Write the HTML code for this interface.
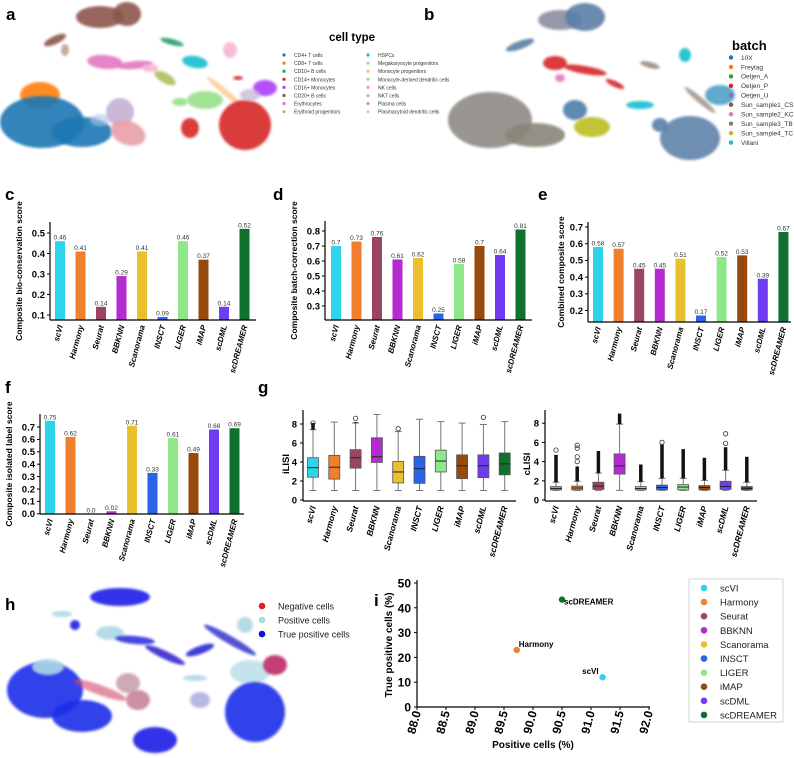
<!DOCTYPE html>
<html><head><meta charset="utf-8">
<style>
body{margin:0;background:#fff;}
svg{display:block;font-family:"Liberation Sans",sans-serif;}
.pl{font-weight:bold;font-size:17px;}
</style></head>
<body>
<svg id="fig" width="794" height="758" viewBox="0 0 794 758" xmlns="http://www.w3.org/2000/svg">
<defs>
<filter id="soft" x="-20%" y="-20%" width="140%" height="140%"><feGaussianBlur stdDeviation="1.2"/></filter>
</defs>
<text class="pl" x="6" y="20">a</text>
<text class="pl" x="424" y="20">b</text>
<text class="pl" x="5" y="200">c</text>
<text class="pl" x="273" y="200">d</text>
<text class="pl" x="538" y="200">e</text>
<text class="pl" x="5" y="393">f</text>
<text class="pl" x="258" y="393">g</text>
<text class="pl" x="5" y="610">h</text>
<text class="pl" x="374" y="606">i</text>
<g id="umapA"></g>
<g id="umapB"></g>
<g id="umapH"></g>
<g id="charts"></g>
</svg>
<script>
const methods = ["scVI","Harmony","Seurat","BBKNN","Scanorama","INSCT","LIGER","iMAP","scDML","scDREAMER"];
const methodColors = ["#2ed5e8","#f07f2e","#9b4565","#b62bd0","#eac02e","#2a62e8","#8ee88a","#974a0c","#6e3df2","#107030"];
const bioScores = [0.46,0.41,0.14,0.29,0.41,0.09,0.46,0.37,0.14,0.52];
const batchScores = [0.7,0.73,0.76,0.61,0.62,0.25,0.58,0.7,0.64,0.81];
const combinedScores = [0.58,0.57,0.45,0.45,0.51,0.17,0.52,0.53,0.39,0.67];
const isolatedScores = [0.75,0.62,0.0,0.02,0.71,0.33,0.61,0.49,0.68,0.69];
const bioTicks = [0.1,0.2,0.3,0.4,0.5];
const batchTicks = [0.3,0.4,0.5,0.6,0.7,0.8];
const combinedTicks = [0.2,0.3,0.4,0.5,0.6,0.7];
const isolatedTicks = [0,0.1,0.2,0.3,0.4,0.5,0.6,0.7];
// box stats: [min, q1, median, q3, max]
const ilisiStats = [[1,2.4,3.4,4.45,7.4],[1,2.2,3.45,4.7,8.2],[1,3.35,4.45,5.3,8.1],[1,3.95,4.55,6.55,9.0],[1,1.8,2.95,4.05,7.2],[1,1.75,3.3,4.6,8.5],[1,2.95,4.1,5.25,8.25],[1,2.25,3.6,4.75,8.1],[1,2.35,3.6,4.75,7.95],[1,2.65,3.8,4.95,8.25]];
const ilisiDenseMax = [8.1,null,8.2,null,null,null,null,null,null,null];
const ilisiOutliers = [[8.1],[],[8.6],[],[7.5],[],[],[],[8.7],[]];
const clisiStats = [[1,1.05,1.2,1.4,1.85],[1,1.05,1.25,1.45,1.95],[1,1.1,1.45,1.85,2.8],[1,2.7,3.55,4.8,7.9],[1,1.05,1.2,1.4,1.9],[1,1.05,1.3,1.55,2.25],[1,1.05,1.35,1.6,2.25],[1,1.05,1.3,1.5,2.05],[1,1.1,1.4,1.95,3.1],[1,1.05,1.2,1.4,1.85]];
const clisiDenseMax = [4.7,3.5,5.1,9.0,3.7,5.8,5.3,4.4,5.5,4.5];
const clisiOutliers = [[5.2],[4.0,4.5,5.4,5.7],[],[],[],[6.0],[],[],[5.9,6.9],[]];
const lisiTicks = [0,2,4,6,8];
const posCells = [91.2,89.72,90.5];
const truePosCells = [12,23,43.3];
const scatterNames = ["scVI","Harmony","scDREAMER"];
const scatterColors = ["#2ed5e8","#f07f2e","#107030"];
const xTicksI = [88.0,88.5,89.0,89.5,90.0,90.5,91.0,91.5,92.0];
const yTicksI = [0,10,20,30,40,50];
const cellTypes = ["CD4+ T cells","CD8+ T cells","CD10+ B cells","CD14+ Monocytes","CD16+ Monocytes","CD20+ B cells","Erythrocytes","Erythroid progenitors","HSPCs","Megakaryocyte progenitors","Monocyte progenitors","Monocyte-derived dendritic cells","NK cells","NKT cells","Plasma cells","Plasmacytoid dendritic cells"];
const cellColors = ["#1f77b4","#ff7f0e","#279e68","#d62728","#aa40fc","#8c564b","#e377c2","#b5bd61","#17becf","#aec7e8","#ffbb78","#98df8a","#ff9896","#c5b0d5","#c49c94","#f7b6d2"];
const batches = ["10X","Freytag","Oetjen_A","Oetjen_P","Oetjen_U","Sun_sample1_CS","Sun_sample2_KC","Sun_sample3_TB","Sun_sample4_TC","Villani"];
const batchColors = ["#1f77b4","#ff7f0e","#2ca02c","#d62728","#9467bd","#8c564b","#e377c2","#7f7f7f","#bcbd22","#17becf"];

const NS="http://www.w3.org/2000/svg";
function mk(parent,tag,attrs,text){const e=document.createElementNS(NS,tag);for(const k in attrs)e.setAttribute(k,attrs[k]);if(text!==undefined)e.textContent=text;parent.appendChild(e);return e;}
const charts=document.getElementById('charts');
function fmt(v){return Number.isInteger(v)?v.toFixed(1):String(v);}

function barChart(o){
  const g=mk(charts,'g',{});
  
  
  const y=v=>o.refY-(v-o.refV)*o.k;
  const x=i=>o.x1+i*o.step;
  const base=o.baseY;
  o.vals.forEach((v,i)=>{
    const top=Math.min(y(v),base);
    const r=mk(g,'rect',{x:x(i)-5,y:top,width:10,height:Math.max(base-top,0),fill:methodColors[i]});
    
    
    const t=mk(g,'text',{x:x(i),y:top-1.5,'font-size':6.5,'text-anchor':'middle',fill:'#333'},fmt(v));
    
    
  });
  mk(g,'line',{x1:o.ax,y1:o.topY,x2:o.ax,y2:base,stroke:'#000','stroke-width':1.2});
  mk(g,'line',{x1:o.ax,y1:base,x2:o.xEnd,y2:base,stroke:'#000','stroke-width':1.2});
  o.ticks.forEach(tv=>{
    const yy=y(tv);
    mk(g,'line',{x1:o.ax-3,y1:yy,x2:o.ax,y2:yy,stroke:'#000','stroke-width':1});
    const t=mk(g,'text',{x:o.ax-5,y:yy+3.3,'font-size':9.5,'font-weight':'bold','text-anchor':'end'},tv.toFixed(1));
    
    
  });
  methods.forEach((m,i)=>{
    const t=mk(g,'text',{transform:`translate(${x(i)+3},${base+6}) rotate(-75)`,'font-size':8,'font-weight':'bold','font-style':'italic','text-anchor':'end'},m);
    
    
  });
  const yl=mk(g,'text',{transform:`translate(${o.ylx},${(o.topY+base)/2}) rotate(-90)`,'font-size':8.5,'font-weight':'bold','text-anchor':'middle'},o.ylabel);
  
  
}
barChart({name:'bio-conservation-chart',vals:bioScores,ticks:bioTicks,refV:0.5,refY:233,k:205,baseY:320,topY:222,ax:50,xEnd:256,x1:60,step:20.5,ylabel:'Composite bio-conservation score',ylx:22});
barChart({name:'batch-correction-chart',vals:batchScores,ticks:batchTicks,refV:0.8,refY:231,k:150,baseY:320,topY:221,ax:325,xEnd:532,x1:336,step:20.5,ylabel:'Composite batch-correction score',ylx:297});
barChart({name:'combined-score-chart',vals:combinedScores,ticks:combinedTicks,refV:0.7,refY:227,k:167,baseY:322,topY:222,ax:588,xEnd:791,x1:598,step:20.6,ylabel:'Combined composite score',ylx:564});
barChart({name:'isolated-label-chart',vals:isolatedScores,ticks:isolatedTicks,refV:0.7,refY:427,k:124,baseY:514,topY:414,ax:40,xEnd:244,x1:50,step:20.5,ylabel:'Composite isolated label score',ylx:12});

function boxChart(o){
  const g=mk(charts,'g',{});
  
  
  const y=v=>o.y0-v*o.k;
  const x=i=>o.x1+i*o.step;
  o.stats.forEach((s,i)=>{
    const cx=x(i),w=11;
    mk(g,'line',{x1:cx,y1:y(s[0]),x2:cx,y2:y(s[1]),stroke:'#777','stroke-width':1});
    mk(g,'line',{x1:cx,y1:y(s[3]),x2:cx,y2:y(s[4]),stroke:'#777','stroke-width':1});
    mk(g,'line',{x1:cx-3.5,y1:y(s[0]),x2:cx+3.5,y2:y(s[0]),stroke:'#777','stroke-width':1});
    mk(g,'line',{x1:cx-3.5,y1:y(s[4]),x2:cx+3.5,y2:y(s[4]),stroke:'#777','stroke-width':1});
    const d=o.dense[i];
    if(d!==null){mk(g,'line',{x1:cx,y1:y(s[4]),x2:cx,y2:y(d),stroke:'#111','stroke-width':3.5});}
    o.out[i].forEach(ov=>{mk(g,'circle',{cx:cx,cy:y(ov),r:2.2,fill:'none',stroke:'#333','stroke-width':0.8});});
    const r=mk(g,'rect',{x:cx-w/2,y:y(s[3]),width:w,height:Math.max(y(s[1])-y(s[3]),1),fill:methodColors[i],stroke:'#555','stroke-width':0.8});
    
    
    mk(g,'line',{x1:cx-w/2,y1:y(s[2]),x2:cx+w/2,y2:y(s[2]),stroke:'#222','stroke-width':1});
  });
  mk(g,'line',{x1:o.ax,y1:o.topY,x2:o.ax,y2:o.y0+1,stroke:'#000','stroke-width':1.2});
  mk(g,'line',{x1:o.ax,y1:o.y0+1,x2:o.xEnd,y2:o.y0+1,stroke:'#000','stroke-width':1.2});
  lisiTicks.forEach(tv=>{
    const yy=y(tv);
    mk(g,'line',{x1:o.ax-3,y1:yy,x2:o.ax,y2:yy,stroke:'#000'});
    const t=mk(g,'text',{x:o.ax-6,y:yy+3.5,'font-size':9.5,'font-weight':'bold','text-anchor':'end'},String(tv));
    
    
  });
  methods.forEach((m,i)=>{
    const t=mk(g,'text',{transform:`translate(${x(i)+3},${o.y0+7}) rotate(-75)`,'font-size':8.5,'font-weight':'bold','font-style':'italic','text-anchor':'end'},m);
    
    
  });
  const yl=mk(g,'text',{transform:`translate(${o.ylx},${o.y0-36}) rotate(-90)`,'font-size':9.5,'font-weight':'bold','text-anchor':'middle'},o.ylabel);
  
  
}
boxChart({name:'ilisi-boxplot',stats:ilisiStats,dense:ilisiDenseMax,out:ilisiOutliers,y0:500,k:9.5,ax:303,xEnd:516,topY:410,x1:313,step:21.3,ylabel:'iLISI',ylx:289});
boxChart({name:'clisi-boxplot',stats:clisiStats,dense:clisiDenseMax,out:clisiOutliers,y0:500,k:9.6,ax:545,xEnd:757,topY:410,x1:556,step:21.2,ylabel:'cLISI',ylx:530});

// panel i scatter
(function(){
  const g=mk(charts,'g',{});
  
  
  const x=v=>417+(v-88)*58, y=v=>707-v*2.48;
  mk(g,'line',{x1:417,y1:580,x2:417,y2:707,stroke:'#000','stroke-width':1.2});
  mk(g,'line',{x1:417,y1:707,x2:650,y2:707,stroke:'#000','stroke-width':1.2});
  yTicksI.forEach(v=>{mk(g,'line',{x1:414,y1:y(v),x2:417,y2:y(v),stroke:'#000'});
    const t=mk(g,'text',{x:411,y:y(v)+4.5,'font-size':12,'font-weight':'bold','text-anchor':'end'},String(v));
    });
  xTicksI.forEach(v=>{mk(g,'line',{x1:x(v),y1:707,x2:x(v),y2:710,stroke:'#000'});
    const t=mk(g,'text',{transform:`translate(${x(v)+4},${712}) rotate(-75)`,'font-size':12,'font-weight':'bold','text-anchor':'end'},v.toFixed(1));
    });
  posCells.forEach((p,i)=>{
    const c=mk(g,'circle',{cx:x(p),cy:y(truePosCells[i]),r:3.2,fill:scatterColors[i]});
    
    
    const off=i===0?{dx:-4,dy:-3,a:'end'}:{dx:2,dy:i===1?-3:5,a:'start'};
    const t=mk(g,'text',{x:x(p)+off.dx,y:y(truePosCells[i])+off.dy,'font-size':8,'font-weight':'bold','text-anchor':off.a},scatterNames[i]);
    
  });
  const xl=mk(g,'text',{x:533,y:748,'font-size':10,'font-weight':'bold','text-anchor':'middle'},'Positive cells (%)');
  
  const yl=mk(g,'text',{transform:'translate(392,645) rotate(-90)','font-size':10,'font-weight':'bold','text-anchor':'middle'},'True positive cells (%)');
  
  const lg=mk(g,'g',{});
  
  mk(lg,'rect',{x:689,y:579,width:94,height:143,fill:'#fff',stroke:'#ccc','stroke-width':0.8});
  methods.forEach((m,i)=>{
    const yy=588+i*14.1;
    mk(lg,'circle',{cx:704,cy:yy,r:3.3,fill:methodColors[i]});
    const t=mk(lg,'text',{x:720,y:yy+3.5,'font-size':9.5,fill:'#222'},m);
    
  });
})();

// UMAP panels (decorative clusters)
function clusters(id,list){
  const g=document.getElementById(id);
  list.forEach(c=>{
    mk(g,'ellipse',{cx:c[0],cy:c[1],rx:c[2],ry:c[3],fill:c[4],opacity:c[6]||0.9,transform:`rotate(${c[5]||0} ${c[0]} ${c[1]})`,filter:'url(#soft)'});
  });
}
clusters('umapA',[
 [100,17,24,11,'#8c564b'],[127,14,14,12,'#8c564b'],[55,40,12,4,'#8c564b',-25],[65,50,4,6,'#c49c94'],
 [105,62,18,7,'#e377c2',5],[135,65,18,4,'#e377c2',-5],[150,68,8,4,'#f7b6d2'],
 [165,78,12,5,'#b5bd61',30],[172,42,12,3,'#279e68',15],[195,62,13,6,'#17becf',10],
 [230,50,7,8,'#f7b6d2'],[225,92,24,3,'#ffbb78',40,0.7],[238,78,5,2,'#d62728'],
 [40,95,20,13,'#ff7f0e'],[42,122,42,26,'#1f77b4'],[82,132,30,15,'#1f77b4'],[100,120,10,6,'#aec7e8',0,0.6],
 [120,112,14,14,'#c5b0d5'],[128,133,18,12,'#e8a0a8',20],
 [205,100,18,9,'#98df8a'],[180,102,8,4,'#98df8a'],[245,125,26,25,'#d62728'],[190,128,9,10,'#d62728'],[265,88,12,8,'#aa40fc'],[250,95,10,6,'#c5b0d5',0,0.7]
]);
clusters('umapB',[
 [560,20,22,10,'#8a8fa0'],[585,17,20,14,'#5b7fa6'],[520,45,15,4,'#5b7fa6',-20],
 [555,63,12,7,'#d62728'],[585,70,22,4,'#d62728',10],[615,84,10,3,'#d62728',25],[560,78,5,4,'#e377c2'],
 [650,65,10,3,'#9b8a80',15],[685,55,6,7,'#17becf'],[700,100,20,3,'#8c7b70',40,0.7],
 [720,95,15,10,'#4fa0c8'],[640,105,14,4,'#17becf'],[660,125,8,7,'#5b7fa6'],
 [490,120,42,28,'#8e8a84'],[535,135,30,12,'#8a8578'],[575,110,12,10,'#4f7fa8'],[592,127,18,10,'#bcbd22'],
 [690,138,30,22,'#5e82aa']
]);
clusters('umapH',[
 [120,597,30,9,'#1a1ae8'],[62,614,10,3,'#add8e6'],[75,625,5,5,'#1a1ae8'],
 [110,633,14,7,'#add8e6'],[135,640,20,4,'#3030e0',5],[165,655,22,4,'#3a2ad0',25],[200,650,15,4,'#2a2ad8',-20],
 [230,640,30,4,'#4040d0',30],[245,625,8,8,'#add8e6'],[250,672,20,12,'#add8e6',0,0.7],[275,665,12,10,'#c02a6a'],
 [45,690,38,28,'#1f2ee8'],[82,716,30,16,'#1f2ee8'],[48,667,16,8,'#add8e6'],[100,690,28,5,'#d44a6a',20,0.6],
 [128,683,12,10,'#c9a0b0'],[138,700,12,10,'#b86080',0,0.7],[155,740,22,13,'#1a1ae8'],
 [255,712,30,30,'#1f2ee8'],[200,700,10,8,'#8a8ad8',0,0.6],[195,678,12,3,'#add8e6']
]);
(function(){
 const gA=document.getElementById('umapA');
 const t=mk(gA,'text',{x:352,y:41,'font-size':11.5,'font-weight':'bold','text-anchor':'middle'},'cell type');
 
 cellTypes.forEach((n,i)=>{const col=i<8?0:1,row=i%8;const x=284+col*84,y=55+row*8.1;
  mk(gA,'circle',{cx:x,cy:y,r:1.6,fill:cellColors[i]});
  const e=mk(gA,'text',{x:x+10,y:y+2,'font-size':5,fill:'#333'},n);
  });
 const gB=document.getElementById('umapB');
 const tb=mk(gB,'text',{x:732,y:50,'font-size':13,'font-weight':'bold'},'batch');
 
 batches.forEach((n,i)=>{const y=57.5+i*9.45;
  mk(gB,'circle',{cx:731,cy:y,r:2.2,fill:batchColors[i]});
  const e=mk(gB,'text',{x:741,y:y+2.3,'font-size':6.5,fill:'#333'},n);
  });
 const gH=document.getElementById('umapH');
 [['Negative cells','#e02020'],['Positive cells','#add8e6'],['True positive cells','#1010e0']].forEach((p,i)=>{
  const y=606+i*14;
  mk(gH,'circle',{cx:262,cy:y,r:3.3,fill:p[1]});
  const e=mk(gH,'text',{x:278,y:y+3.3,'font-size':9,fill:'#222'},p[0]);
  });
})();
</script>
</body></html>
